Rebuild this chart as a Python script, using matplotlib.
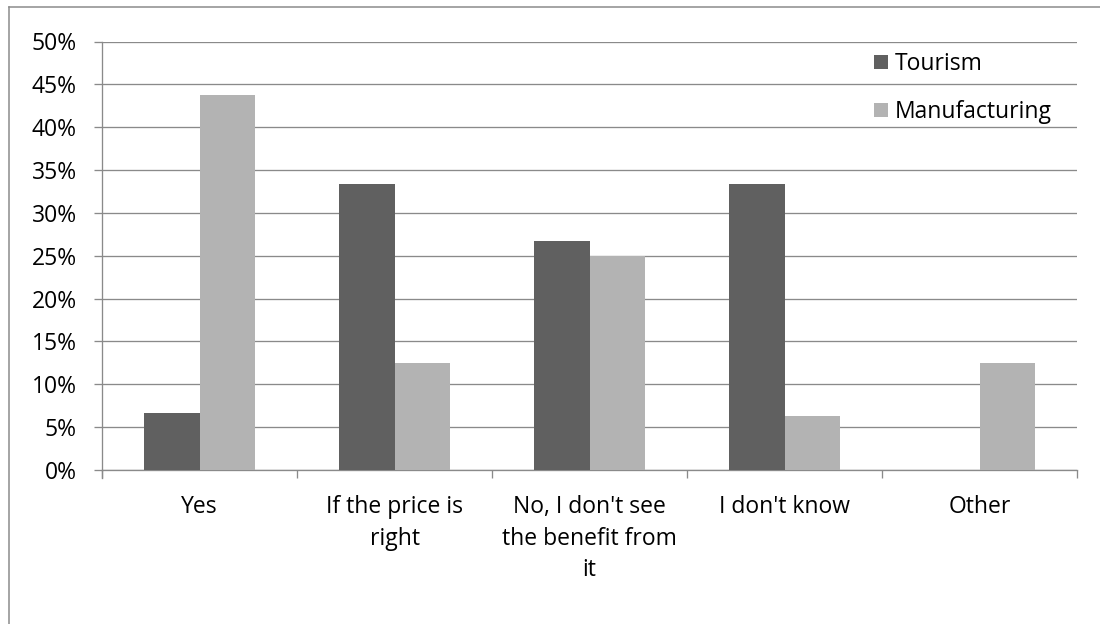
import matplotlib.pyplot as plt
import numpy as np
from matplotlib.lines import Line2D
from matplotlib.patches import Patch

categories = ["Yes", "If the price is\nright", "No, I don't see\nthe benefit from\nit",
              "I don't know", "Other"]
tourism = [6.67, 33.33, 26.67, 33.33, 0.0]
manufacturing = [43.75, 12.5, 25.0, 6.25, 12.5]
series_names = ["Tourism", "Manufacturing"]
y_ticks = [0, 5, 10, 15, 20, 25, 30, 35, 40, 45, 50]

dark = "#606060"
light = "#b3b3b3"
grid_c = "#8a8a8a"

plt.rcParams["font.family"] = ["Open Sans", "DejaVu Sans"]
plt.rcParams["font.size"] = 16.5

fig = plt.figure(figsize=(11, 6.24), dpi=100)
ax = fig.add_axes([102 / 1100, 1 - 470 / 624, (1077 - 102) / 1100, (470 - 41.5) / 624])

x = np.arange(len(categories))
w = 1 / 3.5
ax.bar(x - w / 2, tourism, width=w, color=dark, zorder=3)
ax.bar(x + w / 2, manufacturing, width=w, color=light, zorder=3)

ax.set_xlim(-0.5, len(categories) - 0.5)
ax.set_ylim(0, 50)
ax.set_yticks(y_ticks)
ax.set_yticklabels([f"{v}%" for v in y_ticks])
ax.yaxis.grid(True, color=grid_c, linewidth=0.95, zorder=0)
ax.set_axisbelow(True)

# category labels at centres, tick marks at the category boundaries
ax.set_xticks(x)
ax.set_xticklabels(categories, linespacing=1.42)
ax.set_xticks(np.arange(-0.5, len(categories)), minor=True)
ax.tick_params(axis="x", which="major", length=0, pad=18)
ax.tick_params(axis="x", which="minor", length=6, width=0.95, color=grid_c)
ax.tick_params(axis="y", length=6, width=0.95, color=grid_c, pad=12)

for s in ["top", "right"]:
    ax.spines[s].set_visible(False)
for s in ["left", "bottom"]:
    ax.spines[s].set_color(grid_c)
    ax.spines[s].set_linewidth(0.95)
# left axis line runs down past the baseline like the category ticks
ax.plot([-0.5, -0.5], [0, -0.9], color=grid_c, lw=0.95, clip_on=False, zorder=4)

handles = [Patch(facecolor=dark), Patch(facecolor=light)]
ax.legend(handles, series_names, loc="upper left",
          bbox_to_anchor=(874 / 1100, 1 - 52 / 624), bbox_transform=fig.transFigure,
          frameon=False, handlelength=0.62, handleheight=0.62, handletextpad=0.3,
          labelspacing=1.05, borderpad=0, borderaxespad=0)

# outer chart frame (top and left edges)
fig.add_artist(Line2D([8.5 / 1100, 8.5 / 1100], [0, 1 - 6.5 / 624],
                      transform=fig.transFigure, color="#8c8c8c", lw=1.1))
fig.add_artist(Line2D([8.5 / 1100, 1], [1 - 6.5 / 624, 1 - 6.5 / 624],
                      transform=fig.transFigure, color="#8c8c8c", lw=1.1))

fig.savefig("out.png", dpi=100)
